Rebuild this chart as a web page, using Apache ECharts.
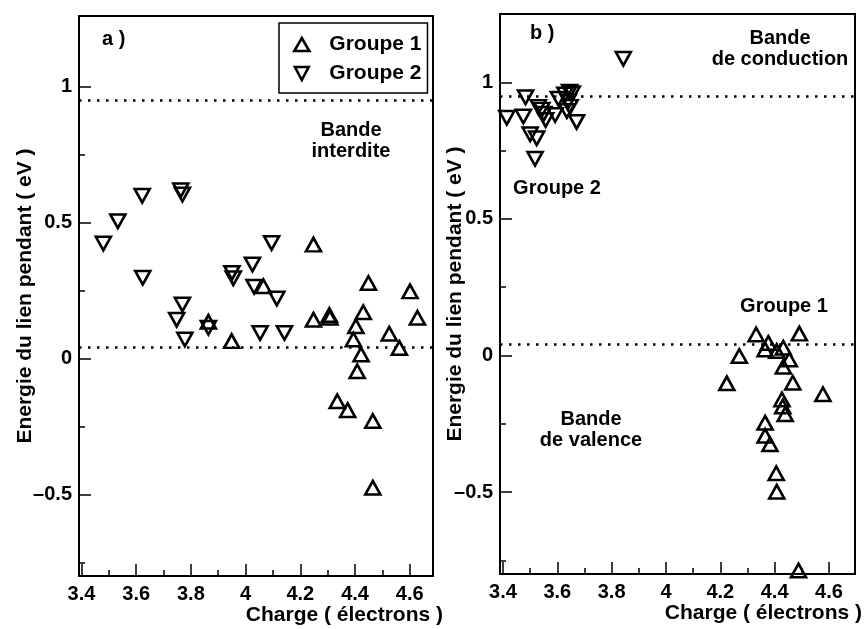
<!DOCTYPE html>
<html lang="fr">
<head>
    <meta charset="UTF-8">
    <title>Energie du lien pendant</title>
    <script src="https://cdn.jsdelivr.net/npm/echarts@6/dist/echarts.min.js"></script>
    <style>
        html, body { margin: 0; padding: 0; background: #fff; }
        #chart { width: 867px; height: 629px; }
    </style>
</head>
<body>
    <div id="chart"></div>
    <script>
        // valeurs : [charge, energie]
        var groupe1A = [[4.248, 0.419], [4.065, 0.266], [3.949, 0.064], [3.864, 0.135], [4.248, 0.143],
            [4.306, 0.160], [4.308, 0.150], [4.449, 0.278], [4.601, 0.247], [4.628, 0.150],
            [4.430, 0.170], [4.403, 0.119], [4.394, 0.070], [4.422, 0.015], [4.408, -0.047],
            [4.525, 0.091], [4.562, 0.039], [4.335, -0.157], [4.373, -0.190], [4.465, -0.230],
            [4.465, -0.475]];
        var groupe2A = [[3.480, 0.423], [3.533, 0.505], [3.622, 0.599], [3.763, 0.619], [3.769, 0.603],
            [3.624, 0.297], [3.950, 0.315], [3.955, 0.295], [4.025, 0.346], [4.031, 0.264],
            [3.769, 0.199], [3.748, 0.143], [4.095, 0.425], [4.114, 0.221], [4.053, 0.094],
            [4.142, 0.094], [3.864, 0.113], [3.778, 0.070]];
        var groupe1B = [[4.332, 0.077], [4.491, 0.080], [4.377, 0.046], [4.365, 0.022], [4.408, 0.016],
            [4.432, 0.028], [4.270, -0.002], [4.454, -0.015], [4.432, -0.041], [4.224, -0.102],
            [4.467, -0.100], [4.578, -0.142], [4.427, -0.161], [4.430, -0.187], [4.439, -0.215],
            [4.365, -0.246], [4.365, -0.294], [4.383, -0.325], [4.406, -0.431], [4.408, -0.499],
            [4.488, -0.787]];
        var groupe2B = [[3.414, 0.870], [3.475, 0.875], [3.483, 0.945], [3.500, 0.810], [3.524, 0.795],
            [3.518, 0.720], [3.530, 0.910], [3.543, 0.900], [3.550, 0.885], [3.557, 0.862],
            [3.592, 0.880], [3.604, 0.940], [3.628, 0.955], [3.645, 0.965], [3.655, 0.960],
            [3.635, 0.895], [3.647, 0.910], [3.640, 0.930], [3.671, 0.855], [3.843, 1.086]];

        var lignesA = [0.955, 0.035];
        var lignesB = [0.95, 0.045];

        var xMajor = [3.4, 3.6, 3.8, 4.0, 4.2, 4.4, 4.6];
        var xMinor = [3.5, 3.7, 3.9, 4.1, 4.3, 4.5];
        var yMajor = [-0.5, 0, 0.5, 1];
        var yMinor = [-0.75, -0.25, 0.25, 0.75];

        var police = '"Liberation Sans", Arial, sans-serif';
        var triangleBas = 'path://M0,0 L10,0 L5,9.5 Z';

        var grilles = [
            { left: 79, width: 354, top: 16, height: 560 },
            { left: 500, width: 355, top: 14, height: 560 }
        ];
        var xRange = [[3.391, 4.685], [3.389, 4.696]];
        var yRange = [[-0.8, 1.26], [-0.8, 1.25]];

        function fmt(v) {
            return v < 0 ? '\u2013' + Math.abs(v) : String(v);
        }

        var grid = [], xAxis = [], yAxis = [];
        for (var i = 0; i < 2; i++) {
            var g = grilles[i];
            grid.push({ left: g.left, width: g.width, top: g.top, height: g.height,
                outerBoundsMode: 'none', containLabel: false,
                show: true, borderColor: '#000', borderWidth: 2 });
            // axes principaux
            xAxis.push({
                type: 'value', gridIndex: i, min: xRange[i][0], max: xRange[i][1],
                name: 'Charge ( électrons )', nameLocation: 'end', nameGap: i === 0 ? 10 : 7,
                nameMoveOverlap: false,
                nameTextStyle: { fontFamily: police, fontWeight: 'bold', fontSize: 21, color: '#000',
                    align: 'right', verticalAlign: 'top', padding: [29, 0, 0, 0] },
                splitLine: { show: false },
                axisLine: { onZero: false, lineStyle: { color: '#000', width: 2 } },
                axisTick: { inside: true, length: 12, customValues: xMajor, lineStyle: { color: '#000', width: 1.5 } },
                axisLabel: { customValues: xMajor, margin: 8, fontFamily: police, fontWeight: 'bold', fontSize: 20, color: '#000', formatter: fmt }
            });
            yAxis.push({
                type: 'value', gridIndex: i, min: yRange[i][0], max: yRange[i][1],
                name: 'Energie du lien pendant ( eV )', nameLocation: 'middle', nameGap: i === 0 ? 43 : 34,
                nameMoveOverlap: false,
                nameTextStyle: { fontFamily: police, fontWeight: 'bold', fontSize: 21, color: '#000' },
                splitLine: { show: false },
                axisLine: { onZero: false, lineStyle: { color: '#000', width: 2 } },
                axisTick: { inside: true, length: 12, customValues: yMajor, lineStyle: { color: '#000', width: 1.5 } },
                axisLabel: { customValues: yMajor, margin: 7, fontFamily: police, fontWeight: 'bold', fontSize: 20, color: '#000', formatter: fmt }
            });
        }
        // grilles superposees pour les petites graduations
        for (var j = 0; j < 2; j++) {
            var h = grilles[j];
            grid.push({ left: h.left, width: h.width, top: h.top, height: h.height,
                outerBoundsMode: 'none', containLabel: false, show: false });
            xAxis.push({
                type: 'value', gridIndex: 2 + j, min: xRange[j][0], max: xRange[j][1],
                splitLine: { show: false }, axisLine: { show: false, onZero: false }, axisLabel: { show: false },
                axisTick: { inside: true, length: 6, customValues: xMinor, lineStyle: { color: '#000', width: 1.5 } }
            });
            yAxis.push({
                type: 'value', gridIndex: 2 + j, min: yRange[j][0], max: yRange[j][1],
                splitLine: { show: false }, axisLine: { show: false, onZero: false }, axisLabel: { show: false },
                axisTick: { inside: true, length: 6, customValues: yMinor, lineStyle: { color: '#000', width: 1.5 } }
            });
        }

        function pointille(vals) {
            return {
                silent: true, symbol: ['none', 'none'], label: { show: false },
                lineStyle: { color: '#000', type: [2.5, 6.5], width: 2.7, opacity: 1 },
                data: vals.map(function (v) { return { yAxis: v }; })
            };
        }

        var styleMarque = { color: 'rgba(0,0,0,0)', borderColor: '#000', borderWidth: 2.6, opacity: 1 };

        function serie(nom, data, idx, sym, lignes) {
            var s = {
                name: nom, type: 'scatter', xAxisIndex: idx, yAxisIndex: idx, data: data,
                symbol: sym, symbolSize: [15, 13.5], itemStyle: styleMarque, emphasis: { disabled: true }
            };
            if (lignes) s.markLine = pointille(lignes);
            return s;
        }

        var texte = function (txt, x, y, align) {
            return { type: 'text', x: x, y: y, silent: true,
                style: { text: txt, font: 'bold 20px ' + police, fill: '#000',
                    align: align || 'center', verticalAlign: 'middle', lineHeight: 21 } };
        };

        var option = {
            animation: false,
            backgroundColor: '#fff',
            grid: grid, xAxis: xAxis, yAxis: yAxis,
            legend: {
                left: 279, top: 23, orient: 'vertical',
                padding: [11, 6, 9, 14], itemGap: 8, itemWidth: 15, itemHeight: 13,
                borderColor: '#000', borderWidth: 1.5,
                itemStyle: { color: 'rgba(0,0,0,0)', borderColor: '#000', borderWidth: 2.6, opacity: 1 },
                textStyle: { fontFamily: police, fontWeight: 'bold', fontSize: 21, color: '#000',
                    lineHeight: 18, padding: [0, 0, 0, 15] },
                data: [{ name: 'Groupe 1', icon: 'triangle' }, { name: 'Groupe 2', icon: triangleBas }]
            },
            graphic: [
                texte('a )', 102, 39, 'left'),
                texte('Bande\ninterdite', 351, 141),
                texte('b )', 530, 33, 'left'),
                texte('Bande\nde conduction', 780, 49),
                texte('Groupe 2', 557, 188),
                texte('Groupe 1', 784, 306),
                texte('Bande\nde valence', 591, 430)
            ],
            series: [
                serie('Groupe 1', groupe1A, 0, 'triangle', lignesA),
                serie('Groupe 2', groupe2A, 0, triangleBas),
                serie('Groupe 1', groupe1B, 1, 'triangle', lignesB),
                serie('Groupe 2', groupe2B, 1, triangleBas)
            ]
        };

        var myChart = echarts.init(document.getElementById('chart'));
        myChart.setOption(option);
    </script>
</body>
</html>
